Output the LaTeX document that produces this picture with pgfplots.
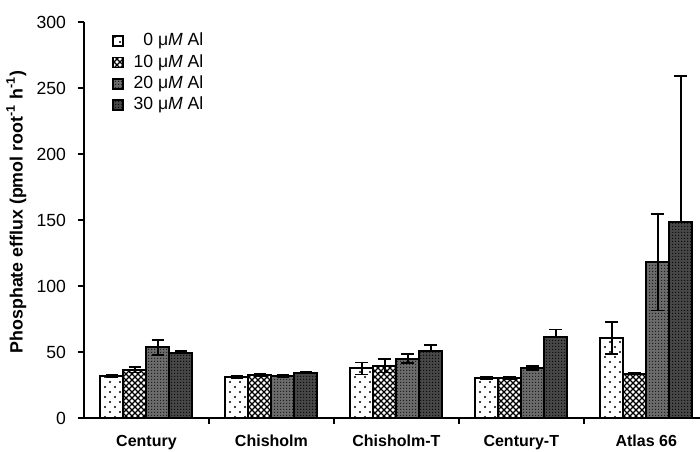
\documentclass[border=0pt]{standalone}
\usepackage{fontspec}
\setmainfont{Liberation Sans}
\usepackage{pgfplots}
\pgfplotsset{compat=1.18}
\usetikzlibrary{patterns}

\pgfdeclarepatternformonly{sparsedots}{\pgfqpoint{-1pt}{-1pt}}{\pgfqpoint{6pt}{6pt}}{\pgfqpoint{5pt}{5pt}}{%
  \pgfpathcircle{\pgfqpoint{0pt}{0pt}}{0.6pt}%
  \pgfpathcircle{\pgfqpoint{2.5pt}{2.5pt}}{0.6pt}%
  \pgfusepath{fill}}
\pgfdeclarepatternformonly{xhatch}{\pgfqpoint{-0.5pt}{-0.5pt}}{\pgfqpoint{3.5pt}{3.5pt}}{\pgfqpoint{3pt}{3pt}}{%
  \pgfsetlinewidth{0.6pt}%
  \pgfpathmoveto{\pgfqpoint{0pt}{0pt}}\pgfpathlineto{\pgfqpoint{3pt}{3pt}}%
  \pgfpathmoveto{\pgfqpoint{0pt}{3pt}}\pgfpathlineto{\pgfqpoint{3pt}{0pt}}%
  \pgfusepath{stroke}}
\pgfdeclarepatternformonly{finegrid}{\pgfqpoint{0pt}{0pt}}{\pgfqpoint{1.4pt}{1.4pt}}{\pgfqpoint{1.4pt}{1.4pt}}{%
  \pgfpathrectangle{\pgfqpoint{0pt}{0pt}}{\pgfqpoint{0.6pt}{0.6pt}}%
  \pgfusepath{fill}}

\newcommand{\fs}{\fontsize{8}{9.6}\selectfont}
\newcommand{\fsn}{\fontsize{8.8}{10}\selectfont}
\newcommand{\fsl}{\fontsize{8.9}{10}\selectfont}

\begin{document}
\begin{tikzpicture}
\begin{axis}[
  name=ax,
  scale only axis,
  width=308pt, height=198pt,
  xmin=-0.5, xmax=4.43,
  ymin=0, ymax=300,
  ytick={0,50,...,300},
  xtick={0,1,2,3,4},
  xticklabels={Century,Chisholm,Chisholm-T,Century-T,Atlas 66},
  minor xtick={0.5,1.5,2.5,3.5},
  major x tick style={draw=none},
  axis lines=left,
  axis line style={-, line width=1pt},
  tick style={line width=1pt, black},
  tick align=outside,
  major tick length=3pt,
  minor tick length=3pt,
  /pgf/number format/assume math mode=true,
  yticklabel style={font=\fsn, xshift=-2.5pt},
  xticklabel style={font=\fs\bfseries, yshift=-2pt},
  ylabel={\textbf{Phosphate efflux (pmol root\textsuperscript{-1} h\textsuperscript{-1})}},
  ylabel style={font=\fsl, at={(axis description cs:-0.11,0.52)}, anchor=center},
  ybar=0pt,
  bar width=11.5pt,
  enlargelimits=false,
  legend style={at={(axis description cs:0.035,0.993)}, anchor=north west, draw=none, fill=none, font=\fsn, row sep=-1.2pt},
  legend cell align=left,
  legend image code/.code={\draw[#1, line width=0.8pt] (0pt,-2.5pt) rectangle (5pt,2.5pt);},
  error bars/y dir=both,
  error bars/y explicit,
  error bars/error bar style={line width=0.9pt, black},
  error bars/error mark options={rotate=90, mark size=3.2pt, line width=0.9pt, black},
]
\addplot[draw=black, line width=1pt, fill=white, postaction={pattern=sparsedots, pattern color=black}]
  coordinates {(0,32) +- (0,1) (1,31) +- (0,0.8) (2,37.5) +- (0,4.5) (3,30.5) +- (0,1) (4,60.5) +- (0,12)};
\addlegendentry{\hspace{3pt}\phantom{0}0 μ\textit{M} Al}
\addplot[draw=black, line width=1pt, fill=white, postaction={pattern=xhatch, pattern color=black}]
  coordinates {(0,36.5) +- (0,2) (1,32.5) +- (0,1) (2,39.5) +- (0,5) (3,30.5) +- (0,1) (4,33.5) +- (0,0.5)};
\addlegendentry{\hspace{3pt}10 μ\textit{M} Al}
\addplot[draw=black, line width=1pt, fill=black!58, postaction={pattern=finegrid, pattern color=black!88}]
  coordinates {(0,53.5) +- (0,5.5) (1,32) +- (0,0.8) (2,45) +- (0,3.5) (3,38) +- (0,1.5) (4,118) +- (0,36.5)};
\addlegendentry{\hspace{3pt}20 μ\textit{M} Al}
\addplot[draw=black, line width=1pt, fill=black!72, postaction={pattern=finegrid, pattern color=black!95},
  error bars/y dir=plus]
  coordinates {(0,49.5) +- (0,1.5) (1,34) +- (0,0.8) (2,51) +- (0,4) (3,61.5) +- (0,5.5) (4,148.5) +- (0,110.5)};
\addlegendentry{\hspace{3pt}30 μ\textit{M} Al}
\end{axis}
\pgfresetboundingbox
\path[use as bounding box] ([xshift=-42pt,yshift=-17pt]ax.south west) rectangle ([yshift=11pt]ax.north east);
\end{tikzpicture}
\end{document}
